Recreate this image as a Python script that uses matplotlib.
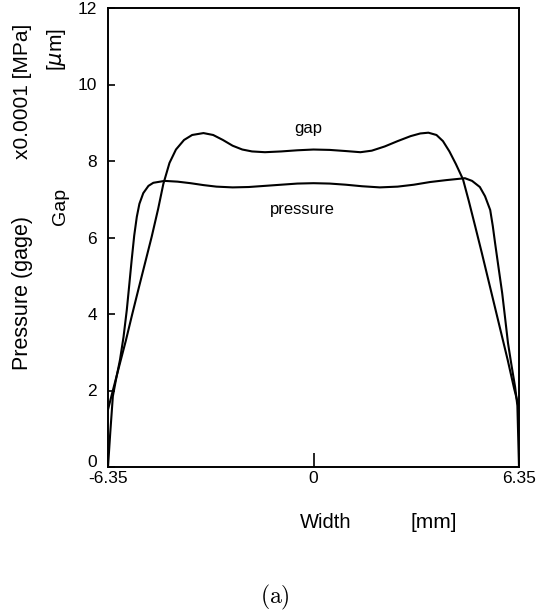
import matplotlib
matplotlib.use("Agg")
import matplotlib.pyplot as plt

# ---- data ----
gap_x = [-6.35, -6.20, -6.00, -5.80, -5.60, -5.40, -5.20, -5.00, -4.80, -4.64,
         -4.45, -4.25, -4.00, -3.75, -3.40, -3.10, -2.80, -2.50, -2.20, -1.90,
         -1.50, -1.00, -0.50, 0.00, 0.50, 1.00, 1.45, 1.80, 2.20, 2.60,
         3.00, 3.30, 3.55, 3.80, 4.00, 4.20, 4.40, 4.62, 4.80, 5.00,
         5.20, 5.40, 5.60, 5.80, 6.00, 6.20, 6.35]
gap_y = [1.50, 2.00, 2.65, 3.30, 4.00, 4.68, 5.35, 6.02, 6.75, 7.40,
         7.95, 8.30, 8.55, 8.68, 8.73, 8.68, 8.55, 8.40, 8.30, 8.25,
         8.23, 8.25, 8.28, 8.30, 8.29, 8.26, 8.23, 8.27, 8.38, 8.52,
         8.65, 8.72, 8.74, 8.68, 8.52, 8.25, 7.92, 7.52, 6.95, 6.28,
         5.60, 4.90, 4.20, 3.50, 2.80, 2.05, 1.55]

pres_x = [-6.35, -6.28, -6.20, -6.10, -5.98, -5.87, -5.77, -5.70, -5.62, -5.54,
          -5.46, -5.38, -5.26, -5.10, -4.95, -4.60, -4.20, -3.80, -3.40, -3.00,
          -2.50, -2.00, -1.50, -1.00, -0.50, 0.00, 0.50, 1.00, 1.50, 2.05,
          2.60, 3.10, 3.60, 4.10, 4.68, 4.90, 5.14, 5.30, 5.46, 5.54,
          5.61, 5.72, 5.83, 5.92, 6.01, 6.12, 6.23, 6.30, 6.35]
pres_y = [0.00, 0.90, 1.85, 2.30, 2.80, 3.40, 4.10, 4.70, 5.40, 6.05,
          6.54, 6.88, 7.16, 7.35, 7.43, 7.48, 7.46, 7.42, 7.37, 7.33,
          7.31, 7.32, 7.35, 7.38, 7.41, 7.42, 7.41, 7.38, 7.34, 7.31,
          7.33, 7.38, 7.45, 7.50, 7.55, 7.48, 7.32, 7.08, 6.72, 6.30,
          5.86, 5.20, 4.55, 3.90, 3.24, 2.65, 2.09, 1.60, 0.00]

x_ticks = [-6.35, 0, 6.35]
x_tick_labels = ["-6.35", "0", "6.35"]
y_ticks = [0, 2, 4, 6, 8, 10, 12]
y_tick_labels = ["0", "2", "4", "6", "8", "10", "12"]

W, H = 546, 611
fig = plt.figure(figsize=(W / 100, H / 100), dpi=100)
fam = ["Liberation Sans", "DejaVu Sans"]

ax = fig.add_axes([108 / W, 1 - 467 / H, (519 - 108) / W, (467 - 8) / H])
ax.plot(gap_x, gap_y, color="black", lw=1.5)
ax.plot(pres_x, pres_y, color="black", lw=1.5)
ax.set_xlim(-6.35, 6.35)
ax.set_ylim(0, 12)
for s in ax.spines.values():
    s.set_linewidth(1.4)

ax.set_yticks(y_ticks)
ax.set_yticklabels(y_tick_labels, family=fam, fontsize=12.5)
ax.set_xticks(x_ticks)
ax.set_xticklabels(x_tick_labels, family=fam, fontsize=12.5)
ax.tick_params(axis="y", direction="in", length=5, width=1.2, pad=8)
ax.tick_params(axis="x", direction="in", length=10, width=1.2, pad=3)
ax.get_yticklabels()[0].set_verticalalignment("baseline")

ax.text(-0.15, 8.85, "gap", ha="center", va="center", family=fam, fontsize=12)
ax.text(-0.35, 6.72, "pressure", ha="center", va="center", family=fam, fontsize=12)

def ftext(x, y, s, **kw):
    fig.text(x / W, 1 - y / H, s, ha="center", va="center", **kw)

ftext(23, 91, "x0.0001 [MPa]", rotation=90, family=fam, fontsize=15)
ftext(23, 293, "Pressure (gage)", rotation=90, family=fam, fontsize=15.5)
ftext(57, 50, "[$\\mu$m]", rotation=90, family=fam, fontsize=15)
ftext(60, 206, "Gap", rotation=90, family=fam, fontsize=14)
ftext(326, 522, "Width", family=fam, fontsize=14.5)
ftext(434, 522, "[mm]", family=fam, fontsize=15)
ftext(275, 597, "$\\mathrm{(a)}$", math_fontfamily="cm", fontsize=17)

fig.savefig("out.png", dpi=100)
